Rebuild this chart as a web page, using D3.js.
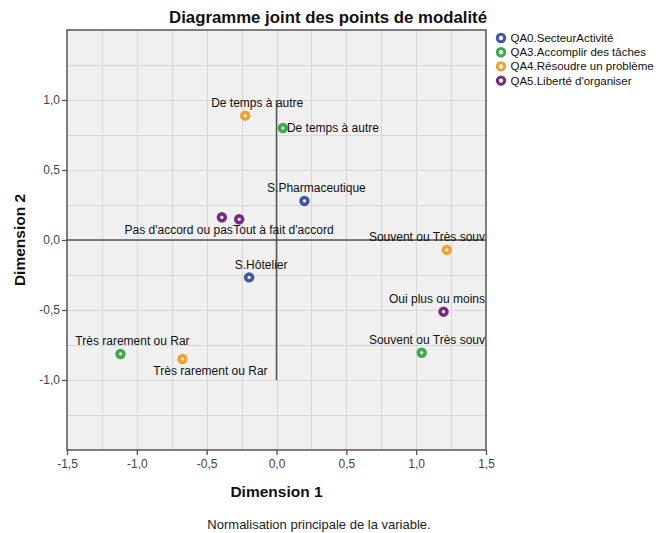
<!DOCTYPE html>
<html>
<head>
<meta charset="utf-8">
<script src="https://cdn.jsdelivr.net/npm/d3@7"></script>
<style>
  html, body { margin: 0; padding: 0; background: #fff; }
  svg { display: block; font-family: "Liberation Sans", Arial, sans-serif; }
</style>
</head>
<body>
<svg id="chart" width="659" height="533"></svg>
<script>
// Variables (legend entries) and their colours
const variables = ["QA0.SecteurActivité", "QA3.Accomplir des tâches", "QA4.Résoudre un problème", "QA5.Liberté d'organiser"];
const variableColors = ["#3d56a8", "#3aab4a", "#f1a130", "#782a80"];

// Category points: label, variable index, coordinates on dimensions 1 and 2
const pointLabels = [
  "S.Pharmaceutique", "S.Hôtelier",
  "De temps à autre", "Très rarement ou Rar", "Souvent ou Très souv",
  "De temps à autre", "Très rarement ou Rar", "Souvent ou Très souv",
  "Pas d'accord ou pas", "Tout à fait d'accord", "Oui plus ou moins"
];
const pointVariable = [0, 0, 1, 1, 1, 2, 2, 2, 3, 3, 3];
const dim1 = [0.200, -0.196, 0.046, -1.117, 1.040, -0.224, -0.673, 1.220, -0.391, -0.267, 1.196];
const dim2 = [0.279, -0.267, 0.800, -0.814, -0.805, 0.888, -0.850, -0.071, 0.162, 0.148, -0.512];
// Where each label sits relative to its point
const labelPlacement = ["above", "above", "right", "above", "above", "above", "below", "above", "belowLeft", "belowRight", "above"];

// Axis ticks
const xTicks = [-1.5, -1.0, -0.5, 0.0, 0.5, 1.0, 1.5];
const yTicks = [-1.0, -0.5, 0.0, 0.5, 1.0];
const gridSteps = d3.range(-1.25, 1.5, 0.25);

const svg = d3.select("#chart");
const plot = { left: 67, right: 486, top: 30, bottom: 450 };

const x = d3.scaleLinear().domain([-1.5, 1.5]).range([plot.left, plot.right]);
const y = d3.scaleLinear().domain([-1.5, 1.5]).range([plot.bottom, plot.top]);
const fmt = v => d3.format(".1f")(v).replace(".", ",").replace("−", "-");

// Plot background
svg.append("rect")
  .attr("x", plot.left).attr("y", plot.top)
  .attr("width", plot.right - plot.left).attr("height", plot.bottom - plot.top)
  .attr("fill", "#f0f0f0");

// Grid lines every 0.25
const grid = svg.append("g").attr("stroke", "#d8d8d8").attr("stroke-width", 1);
grid.selectAll(".gx").data(gridSteps).join("line")
  .attr("x1", d => Math.round(x(d)) + 0.5).attr("x2", d => Math.round(x(d)) + 0.5)
  .attr("y1", plot.top).attr("y2", plot.bottom);
grid.selectAll(".gy").data(gridSteps).join("line")
  .attr("y1", d => Math.round(y(d)) + 0.5).attr("y2", d => Math.round(y(d)) + 0.5)
  .attr("x1", plot.left).attr("x2", plot.right);

// Reference lines through the origin
svg.append("line")
  .attr("x1", plot.left).attr("x2", plot.right)
  .attr("y1", y(0)).attr("y2", y(0))
  .attr("stroke", "#555").attr("stroke-width", 1.5);
svg.append("line")
  .attr("x1", x(0)).attr("x2", x(0))
  .attr("y1", y(1)).attr("y2", y(-1))
  .attr("stroke", "#555").attr("stroke-width", 1.5);

// Frame
svg.append("rect")
  .attr("x", plot.left).attr("y", plot.top)
  .attr("width", plot.right - plot.left).attr("height", plot.bottom - plot.top)
  .attr("fill", "none").attr("stroke", "#555").attr("stroke-width", 1.5);

// Axes
const xAxis = svg.append("g")
  .attr("transform", `translate(0,${plot.bottom})`)
  .call(d3.axisBottom(x).tickValues(xTicks).tickFormat(fmt).tickSize(5).tickPadding(4));
const yAxis = svg.append("g")
  .attr("transform", `translate(${plot.left},0)`)
  .call(d3.axisLeft(y).tickValues(yTicks).tickFormat(fmt).tickSize(5).tickPadding(2));
[xAxis, yAxis].forEach(a => {
  a.select(".domain").remove();
  a.selectAll(".tick line").attr("stroke", "#555").attr("stroke-width", 1.3);
  a.selectAll(".tick text").attr("fill", "#444").attr("font-size", "12px")
    .attr("font-family", "'Liberation Sans', Arial, sans-serif");
});

// Points
const idx = d3.range(pointLabels.length);
const pts = svg.append("g").selectAll("g").data(idx).join("g")
  .attr("transform", i => `translate(${x(dim1[i])},${y(dim2[i])})`);
pts.append("circle").attr("r", 5.2).attr("fill", i => variableColors[pointVariable[i]]);
pts.append("circle").attr("r", 1.6).attr("fill", "#fff");

// Point labels, kept inside the plot frame
const labels = svg.append("g").attr("font-size", "12px").attr("fill", "#111");
idx.forEach(i => {
  const px = x(dim1[i]), py = y(dim2[i]);
  const t = labels.append("text").text(pointLabels[i]).attr("dominant-baseline", "central");
  const w = t.node().getComputedTextLength();
  let left, cy;
  switch (labelPlacement[i]) {
    case "right":      left = px + 4;          cy = py; break;
    case "below":      left = px + 28 - w / 2; cy = py + 12; break;
    case "belowLeft":  left = px + 11 - w;     cy = py + 13; break;
    case "belowRight": left = px - 6;          cy = py + 11; break;
    default:           left = px + 12 - w / 2; cy = py - 12.5;
  }
  left = Math.max(plot.left + 1, Math.min(plot.right - 1 - w, left));
  t.attr("x", left).attr("y", cy);
});

// Title
svg.append("text")
  .attr("x", 328).attr("y", 17)
  .attr("text-anchor", "middle").attr("dominant-baseline", "central")
  .attr("font-size", "16.8px").attr("font-weight", "bold").attr("fill", "#111")
  .text("Diagramme joint des points de modalité");

// Axis titles
svg.append("text")
  .attr("x", x(0)).attr("y", 491)
  .attr("text-anchor", "middle").attr("dominant-baseline", "central")
  .attr("font-size", "15.5px").attr("font-weight", "bold").attr("fill", "#111")
  .text("Dimension 1");
svg.append("text")
  .attr("transform", `translate(19,${y(0)}) rotate(-90)`)
  .attr("text-anchor", "middle").attr("dominant-baseline", "central")
  .attr("font-size", "15.5px").attr("font-weight", "bold").attr("fill", "#111")
  .text("Dimension 2");

// Footnote
svg.append("text")
  .attr("x", 319).attr("y", 524)
  .attr("text-anchor", "middle").attr("dominant-baseline", "central")
  .attr("font-size", "13px").attr("fill", "#222")
  .text("Normalisation principale de la variable.");

// Legend
const legend = svg.append("g").selectAll("g").data(variables).join("g")
  .attr("transform", (d, i) => `translate(501,${38 + i * 14.2})`);
legend.append("circle").attr("r", 3.7).attr("fill", "#fff")
  .attr("stroke", (d, i) => variableColors[i]).attr("stroke-width", 3);
legend.append("text").attr("x", 9.5).attr("dominant-baseline", "central")
  .attr("font-size", "11.5px").attr("fill", "#111").text(d => d);
</script>
</body>
</html>
